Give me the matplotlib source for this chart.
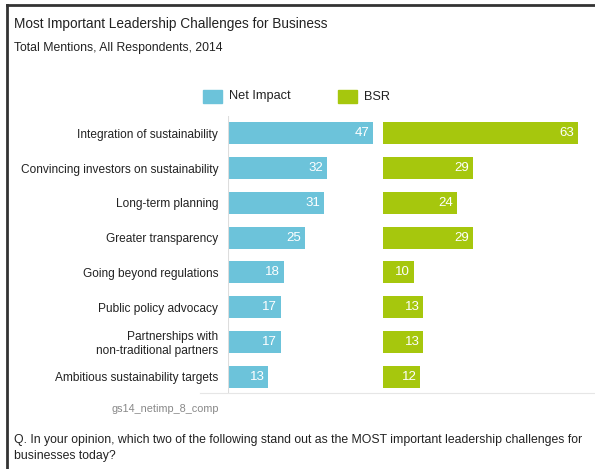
import matplotlib
matplotlib.use("Agg")
import matplotlib.pyplot as plt
from matplotlib.patches import Rectangle
from matplotlib.lines import Line2D

plt.rcParams['font.family'] = ['Liberation Sans', 'DejaVu Sans']

categories = ["Integration of sustainability",
              "Convincing investors on sustainability",
              "Long-term planning",
              "Greater transparency",
              "Going beyond regulations",
              "Public policy advocacy",
              "Partnerships with\nnon-traditional partners",
              "Ambitious sustainability targets"]
net_impact = [47, 32, 31, 25, 18, 17, 17, 13]
bsr = [63, 29, 24, 29, 10, 13, 13, 12]
series_names = ["Net Impact", "BSR"]

blue = "#6cc3da"
green = "#a6c70d"

W, H = 595, 469
fig = plt.figure(figsize=(W / 100, H / 100), dpi=100)

def fx(px):
    return px / W

def fy(py):
    return 1 - py / H

ppu = 3.09  # pixels per unit
ax_top, ax_bot = 116, 394
n = len(categories)

def make_ax(x0, width_px):
    ax = fig.add_axes([fx(x0), fy(ax_bot), width_px / W, (ax_bot - ax_top) / H])
    ax.set_xlim(0, width_px / ppu)
    ax.set_ylim(n - 0.5, -0.5)
    for s in ax.spines.values():
        s.set_visible(False)
    ax.set_xticks([])
    ax.set_yticks([])
    ax.patch.set_alpha(0)
    return ax

ax1 = make_ax(228, 152)
ax2 = make_ax(383, 205)
ax1.axvline(0, color="#dddddd", lw=0.8)

ys = list(range(n))
ax1.barh(ys, net_impact, height=0.64, color=blue)
ax2.barh(ys, bsr, height=0.64, color=green)
for y, v in zip(ys, net_impact):
    ax1.text(v - 1.2, y, str(v), ha="right", va="center", color="white", fontsize=9.5)
for y, v in zip(ys, bsr):
    ax2.text(v - 1.2, y, str(v), ha="right", va="center", color="white", fontsize=9.5)

ax1.set_yticks(ys)
ax1.set_yticklabels(categories, fontsize=8.6, color="#222222")
ax1.tick_params(axis="y", length=0, pad=7)
for lbl in ax1.get_yticklabels():
    lbl.set_multialignment("right")
    lbl.set_linespacing(1.15)

# faint baseline under chart
fig.add_artist(Line2D([fx(200), fx(595)], [fy(393), fy(393)], color="#e6e6e6", lw=0.8))

# legend
fig.add_artist(Rectangle((fx(203), fy(103)), 19 / W, 13 / H, color=blue))
fig.text(fx(229), fy(96.5), series_names[0], fontsize=9.2, va="center", color="#222222")
fig.add_artist(Rectangle((fx(338), fy(103)), 19 / W, 13 / H, color=green))
fig.text(fx(364), fy(96.5), series_names[1], fontsize=9.2, va="center", color="#222222")

# titles
fig.text(fx(14), fy(24), "Most Important Leadership Challenges for Business",
         fontsize=9.8, va="center", color="#222222")
fig.text(fx(14), fy(48), "Total Mentions, All Respondents, 2014",
         fontsize=8.8, va="center", color="#222222")

fig.text(fx(219), fy(409), "gs14_netimp_8_comp", fontsize=7.8, ha="right",
         va="center", color="#888888")
fig.text(fx(14), fy(448),
         "Q. In your opinion, which two of the following stand out as the MOST important leadership challenges for\nbusinesses today?",
         fontsize=8.8, va="center", color="#222222", linespacing=1.45)

# frame
fig.add_artist(Line2D([fx(7), fx(7)], [fy(5), fy(469)], color="#333333", lw=2))
fig.add_artist(Line2D([fx(7), fx(595)], [fy(5), fy(5)], color="#333333", lw=2))

fig.savefig("out.png", dpi=100)
